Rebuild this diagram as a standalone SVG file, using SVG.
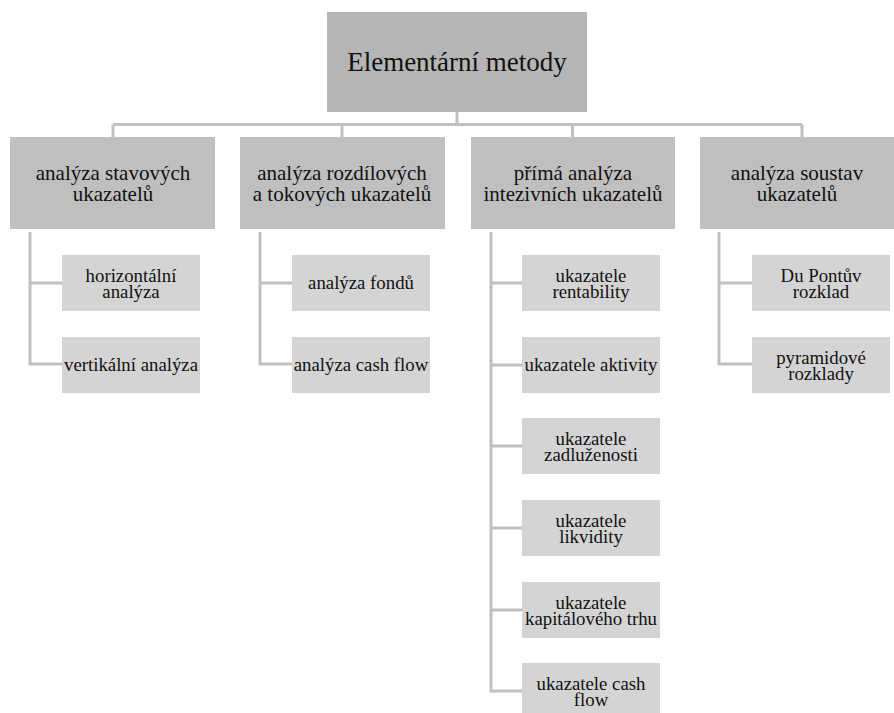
<svg xmlns="http://www.w3.org/2000/svg" width="894" height="713" viewBox="0 0 894 713">
<style>
text{font-family:"Liberation Serif","Times New Roman",serif;fill:#111;text-anchor:middle}
.t0{font-size:27px}
.t1{font-size:21px}
.t2{font-size:18.8px}
.b0{fill:#b5b5b5}
.b1{fill:#bfbfbf}
.b2{fill:#d4d4d4}
.c{fill:none;stroke:#c0c0c0;stroke-width:3}
</style>
<rect width="894" height="713" fill="#fff"/>
<g id="connectors">
<path class="c" d="M457 112V124.5M113 124.5H802M113 124.5V137M342 124.5V137M572.5 124.5V137M802 124.5V137"/>
<path class="c" d="M30 232V364H62M30 283H62"/>
<path class="c" d="M260 232V364H292M260 283H292"/>
<path class="c" d="M491 232V691H522M491 283H522M491 365H522M491 446H522M491 528H522M491 610H522"/>
<path class="c" d="M719 232V364H752M719 283H752"/>
</g>
<g id="root"><rect class="b0" x="327" y="12" width="260" height="100"/><text class="t0" x="457" y="71">Elementární metody</text></g>
<g id="n1"><rect class="b1" x="10" y="137" width="205" height="92"/><text class="t1" x="113" y="179.5">analýza stavových</text><text class="t1" x="113" y="200.5">ukazatelů</text></g>
<g id="n2"><rect class="b1" x="240" y="137" width="205" height="92"/><text class="t1" x="342" y="179.5">analýza rozdílových</text><text class="t1" x="342" y="200.5">a tokových ukazatelů</text></g>
<g id="n3"><rect class="b1" x="471" y="137" width="204" height="92"/><text class="t1" x="573" y="179.5">přímá analýza</text><text class="t1" x="573" y="200.5">intezivních ukazatelů</text></g>
<g id="n4"><rect class="b1" x="700" y="137" width="204" height="92"/><text class="t1" x="797" y="179.5">analýza soustav</text><text class="t1" x="797" y="200.5">ukazatelů</text></g>
<g id="n1a"><rect class="b2" x="62" y="255" width="138" height="56"/><text class="t2" x="131" y="281.5">horizontální</text><text class="t2" x="131" y="298">analýza</text></g>
<g id="n1b"><rect class="b2" x="62" y="337" width="138" height="56"/><text class="t2" x="131" y="370.5">vertikální analýza</text></g>
<g id="n2a"><rect class="b2" x="292" y="255" width="138" height="56"/><text class="t2" x="361" y="288.5">analýza fondů</text></g>
<g id="n2b"><rect class="b2" x="292" y="337" width="138" height="56"/><text class="t2" x="361" y="370.5">analýza cash flow</text></g>
<g id="n3a"><rect class="b2" x="522" y="255" width="138" height="56"/><text class="t2" x="591" y="281.5">ukazatele</text><text class="t2" x="591" y="298">rentability</text></g>
<g id="n3b"><rect class="b2" x="522" y="337" width="138" height="56"/><text class="t2" x="591" y="370.5">ukazatele aktivity</text></g>
<g id="n3c"><rect class="b2" x="522" y="418" width="138" height="56"/><text class="t2" x="591" y="444.5">ukazatele</text><text class="t2" x="591" y="461">zadluženosti</text></g>
<g id="n3d"><rect class="b2" x="522" y="500" width="138" height="56"/><text class="t2" x="591" y="526.5">ukazatele</text><text class="t2" x="591" y="543">likvidity</text></g>
<g id="n3e"><rect class="b2" x="522" y="582" width="138" height="56"/><text class="t2" x="591" y="608.5">ukazatele</text><text class="t2" x="591" y="625">kapitálového trhu</text></g>
<g id="n3f"><rect class="b2" x="522" y="663" width="138" height="56"/><text class="t2" x="591" y="689.5">ukazatele cash</text><text class="t2" x="591" y="706">flow</text></g>
<g id="n4a"><rect class="b2" x="752" y="255" width="138" height="56"/><text class="t2" x="821" y="281.5">Du Pontův</text><text class="t2" x="821" y="298">rozklad</text></g>
<g id="n4b"><rect class="b2" x="752" y="337" width="138" height="56"/><text class="t2" x="821" y="363.5">pyramidové</text><text class="t2" x="821" y="380">rozklady</text></g>
</svg>
